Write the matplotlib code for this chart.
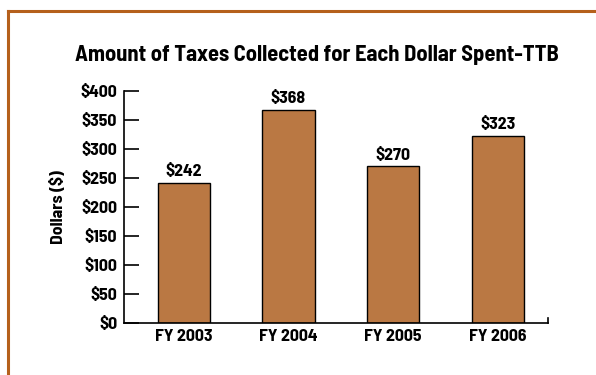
import matplotlib
matplotlib.use("Agg")
import matplotlib.pyplot as plt
from matplotlib.lines import Line2D

categories = ["FY 2003", "FY 2004", "FY 2005", "FY 2006"]
values = [242, 368, 270, 323]
yticks = [0, 50, 100, 150, 200, 250, 300, 350, 400]
ytick_labels = ["$0", "$50", "$100", "$150", "$200", "$250", "$300", "$350", "$400"]

FONT = ["Barlow Semi Condensed", "DejaVu Sans"]
plt.rcParams["font.family"] = FONT
plt.rcParams["font.weight"] = "bold"

W, H = 596, 375
fig = plt.figure(figsize=(W / 100, H / 100), dpi=100)

# axes placement in pixels
x0, x1 = 124, 548
y0, y1 = 323, 91
ax = fig.add_axes([x0 / W, 1 - y0 / H, (x1 - x0) / W, (y0 - y1) / H])

FS = 12.8
xs = list(range(len(categories)))
ax.bar(xs, values, width=0.5, color="#BA7843", edgecolor="black", linewidth=1.0, zorder=2)
for x, v in zip(xs, values):
    ax.text(x, v + 6, f"${v}", ha="center", va="bottom", fontsize=FS, fontweight="bold")

ax.set_xlim(-0.57, 3.48)
ax.set_ylim(0, 400)
ax.set_yticks(yticks)
ax.set_yticklabels(ytick_labels, fontsize=FS, fontweight="bold")
ax.set_xticks(xs)
ax.set_xticklabels(categories, fontsize=FS, fontweight="bold")
ax.tick_params(axis="y", length=11, width=1.2, direction="in", pad=5)
ax.tick_params(axis="x", length=0, pad=4)
ax.spines["top"].set_visible(False)
ax.spines["right"].set_visible(False)
ax.spines["left"].set_linewidth(1.2)
ax.spines["bottom"].set_linewidth(1.2)
# small upward tick at right end of x-axis
ax.plot([1, 1], [0, 0.02], transform=ax.transAxes, color="black", lw=1.2, clip_on=False)
ax.set_ylabel("Dollars ($)", fontsize=FS, fontweight="bold", labelpad=10)

fig.text(317 / W, 1 - 55 / H, "Amount of Taxes Collected for Each Dollar Spent-TTB",
         ha="center", va="center", fontsize=16.2, fontweight="bold")

# orange frame lines
c = "#B5601C"
fig.add_artist(Line2D([8 / W, 1], [1 - 11 / H, 1 - 11 / H], color=c, lw=2.2, transform=fig.transFigure))
fig.add_artist(Line2D([8 / W, 8 / W], [0, 1 - 11 / H], color=c, lw=2.2, transform=fig.transFigure))

fig.savefig("out.png", dpi=100)
